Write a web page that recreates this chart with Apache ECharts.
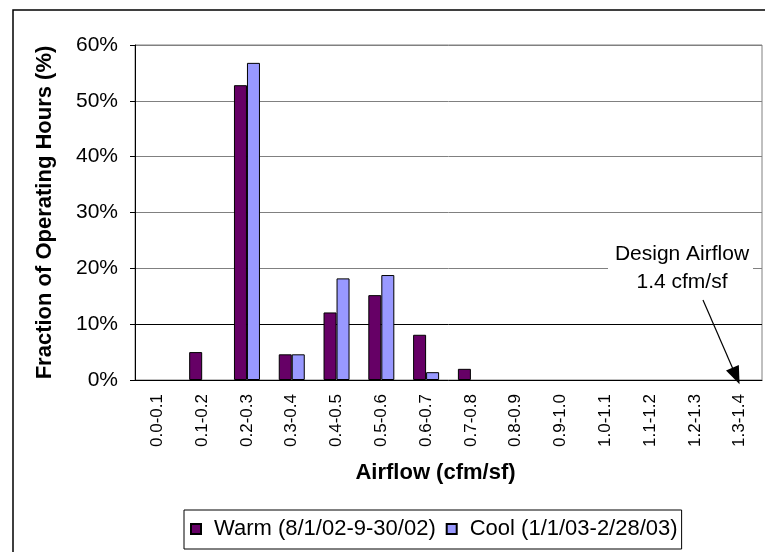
<!DOCTYPE html>
<html lang="en">
  <head>
    <meta charset="UTF-8" />
    <title>Airflow distribution</title>
    <script src="https://cdn.jsdelivr.net/npm/echarts@6.0.0/dist/echarts.min.js"></script>
    <style>
      html, body { margin: 0; padding: 0; background: #fff; }
    </style>
  </head>
  <body>
    <div id="main" style="width: 765px; height: 552px"></div>
    <script type="text/javascript">
      // airflow bins (cfm/sf)
      const categories = ['0.0-0.1', '0.1-0.2', '0.2-0.3', '0.3-0.4', '0.4-0.5', '0.5-0.6', '0.6-0.7',
        '0.7-0.8', '0.8-0.9', '0.9-1.0', '1.0-1.1', '1.1-1.2', '1.2-1.3', '1.3-1.4'];
      // fraction of operating hours, %
      const warm = [0, 5.0, 52.8, 4.6, 12.1, 15.2, 8.1, 2.0, 0, 0, 0, 0, 0, 0];
      const cool = [0, 0, 56.8, 4.6, 18.2, 18.8, 1.4, 0, 0, 0, 0, 0, 0, 0];
      const yTicks = [0, 10, 20, 30, 40, 50, 60];

      const font = 'Liberation Sans, Arial, sans-serif';
      let myChart = echarts.init(document.getElementById('main'));

      // zero-height bars get no outline, like Excel
      const toBars = (arr) => arr.map((v) => (v === 0 ? { value: v, itemStyle: { borderWidth: 0 } } : v));

      let options = {
        animation: false,
        textStyle: { fontFamily: font, color: '#000' },
        grid: {
          left: 135, right: 3, top: 45, bottom: 172,
          show: true, borderColor: '#808080', borderWidth: 1
        },
        legend: {
          left: 184, top: 510,
          padding: [8, 4, 9, 6],
          borderColor: '#000', borderWidth: 1,
          icon: 'rect', itemWidth: 10, itemHeight: 10, itemGap: 10,
          textStyle: { fontFamily: font, fontSize: 22, color: '#000', padding: [0, 0, 0, 8] }
        },
        xAxis: {
          type: 'category',
          data: categories,
          name: 'Airflow (cfm/sf)',
          nameLocation: 'middle',
          nameGap: 82,
          nameTextStyle: {
            fontFamily: font, fontSize: 22, fontWeight: 'bold', color: '#000',
            padding: [0, 26, 0, 0]
          },
          axisLine: { lineStyle: { color: '#000' } },
          axisTick: { length: 5, lineStyle: { color: '#000' } },
          axisLabel: { rotate: 90, fontSize: 17, color: '#000', margin: 14, interval: 0 }
        },
        yAxis: {
          type: 'value',
          min: yTicks[0], max: yTicks[yTicks.length - 1], interval: 10,
          name: 'Fraction of Operating Hours (%)',
          nameLocation: 'middle',
          nameGap: 79,
          nameTextStyle: { fontFamily: font, fontSize: 22, fontWeight: 'bold', color: '#000' },
          axisLine: { show: true, lineStyle: { color: '#000' } },
          axisTick: { show: true, length: 5, lineStyle: { color: '#000' } },
          axisLabel: { formatter: '{value}%', fontSize: 21, color: '#000', margin: 17 },
          splitLine: {
            lineStyle: { color: ['#808080', '#000', '#808080', '#808080', '#808080', '#808080', '#808080'] }
          }
        },
        series: [
          {
            name: 'Warm (8/1/02-9-30/02)',
            type: 'bar',
            data: toBars(warm),
            barWidth: 13,
            barGap: '0%',
            itemStyle: { color: '#660066', borderColor: '#000', borderWidth: 1 },
            markLine: {
              silent: true,
              symbol: ['none', 'triangle'],
              symbolSize: [14, 18],
              label: { show: false },
              lineStyle: { color: '#000', width: 1.2, type: 'solid' },
              data: [[{ x: 703, y: 300 }, { x: 736, y: 376 }]]
            }
          },
          {
            name: 'Cool (1/1/03-2/28/03)',
            type: 'bar',
            data: toBars(cool),
            barWidth: 13,
            itemStyle: { color: '#9999FF', borderColor: '#000', borderWidth: 1 }
          }
        ],
        graphic: [
          {
            type: 'rect', z: 100,
            shape: { x: 13, y: 10, width: 770, height: 570 },
            style: { fill: 'none', stroke: '#000', lineWidth: 1.5 }
          },
          {
            type: 'rect', z: 100,
            shape: { x: 608, y: 241, width: 145, height: 54 },
            style: { fill: '#fff', stroke: 'none' }
          },
          {
            type: 'text', z: 101,
            x: 682, y: 240,
            style: {
              text: 'Design Airflow\n1.4 cfm/sf',
              fontFamily: font, fontSize: 21, lineHeight: 28,
              fill: '#000', align: 'center', verticalAlign: 'top'
            }
          }
        ]
      };

      myChart.setOption(options);
    </script>
  </body>
</html>
